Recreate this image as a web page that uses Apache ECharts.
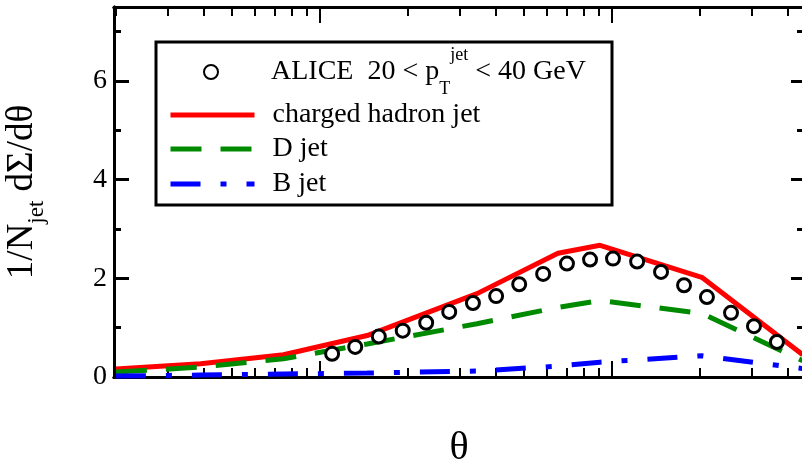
<!DOCTYPE html>
<html>
<head>
<meta charset="utf-8">
<script src="https://cdn.jsdelivr.net/npm/echarts@6/dist/echarts.min.js"></script>
<style>
html, body { margin: 0; padding: 0; background: #fff; }
#chart { width: 802px; height: 463px; }
</style>
</head>
<body>
<div id="chart"></div>
<script>
// ALICE data, 20 < pT(jet) < 40 GeV
const aliceTheta = [0.0110, 0.0132, 0.0159, 0.0192, 0.0231, 0.0277, 0.0334, 0.0401, 0.0481, 0.0581,
    0.0701, 0.0841, 0.1008, 0.1219, 0.1472, 0.1765, 0.2114, 0.2556, 0.3063, 0.3672];
const aliceValue = [0.47, 0.61, 0.82, 0.94, 1.10, 1.32, 1.50, 1.64, 1.88, 2.09,
    2.30, 2.38, 2.40, 2.34, 2.13, 1.86, 1.62, 1.30, 1.03, 0.71];

// model curves (same theta grid)
const modelTheta = [0.002, 0.0039, 0.0075, 0.0145, 0.0345, 0.0653, 0.091, 0.203, 0.45];
const chargedJet = [0.16, 0.27, 0.45, 0.84, 1.69, 2.51, 2.67, 2.02, 0.45];
const dJet = [0.10, 0.20, 0.37, 0.67, 1.08, 1.41, 1.55, 1.29, 0.33];
const bJet = [0.02, 0.04, 0.06, 0.08, 0.12, 0.22, 0.30, 0.43, 0.17];

// ticks
const xMajorTicks = [0.01, 0.1];
const xMinorTicks = [0.002, 0.003, 0.004, 0.005, 0.006, 0.007, 0.008, 0.009,
    0.02, 0.03, 0.04, 0.05, 0.06, 0.07, 0.08, 0.09, 0.2, 0.3, 0.4];
const yMajorTicks = [0, 2, 4, 6];
const yMinorTicks = [1, 3, 5, 7];

const X_MIN = 0.00197, X_MAX = 0.4545;
const Y_MIN = 0, Y_MAX = 7.5;
const FONT = 'Liberation Serif';

function zip(xs, ys) {
    return xs.map((x, i) => [x, ys[i]]);
}

function xAxisCfg(pos, ticks, len, extra) {
    return Object.assign({
        type: 'log',
        logBase: 10,
        position: pos,
        min: X_MIN,
        max: X_MAX,
        axisLine: { show: true, onZero: false, lineStyle: { color: '#000', width: 3 } },
        axisTick: { show: true, inside: true, length: len, customValues: ticks, lineStyle: { color: '#000', width: 2 } },
        axisLabel: { show: false },
        splitLine: { show: false },
        minorTick: { show: false },
        minorSplitLine: { show: false }
    }, extra || {});
}

function yAxisCfg(pos, ticks, len, extra) {
    return Object.assign({
        type: 'value',
        position: pos,
        min: Y_MIN,
        max: Y_MAX,
        axisLine: { show: true, onZero: false, lineStyle: { color: '#000', width: 3 } },
        axisTick: { show: true, inside: true, length: len, customValues: ticks, lineStyle: { color: '#000', width: 3 } },
        axisLabel: { show: false },
        splitLine: { show: false }
    }, extra || {});
}

const legendText = {
    fontFamily: FONT,
    fontSize: 28,
    color: '#000',
    padding: [0, 0, 0, 13],
    rich: {
        t: { fontFamily: FONT, fontSize: 28, color: '#000', lineHeight: 52 },
        sub: { fontFamily: FONT, fontSize: 18, color: '#000', lineHeight: 26, verticalAlign: 'bottom' },
        sup: { fontFamily: FONT, fontSize: 18, color: '#000', lineHeight: 20, verticalAlign: 'top' }
    }
};

function legendCfg(name, top, color, extra) {
    return Object.assign({
        data: [name],
        orient: 'vertical',
        left: 168,
        top: top,
        padding: 0,
        itemWidth: 84,
        itemHeight: 14,
        selectedMode: false,
        itemStyle: { color: 'rgba(0,0,0,0)', borderWidth: 0 },
        lineStyle: { width: 5, color: color },
        textStyle: { fontFamily: FONT, fontSize: 28, color: '#000', lineHeight: 28, padding: [0, 0, 0, 13] }
    }, extra || {});
}

const chart = echarts.init(document.getElementById('chart'));

chart.setOption({
    animation: false,
    backgroundColor: '#fff',
    grid: { left: 114, right: -2, top: 7, bottom: 86, outerBoundsMode: 'none' },
    xAxis: [
        xAxisCfg('bottom', xMajorTicks, 16, {
            name: 'θ',
            nameLocation: 'middle',
            nameGap: 51,
            nameTextStyle: { fontFamily: FONT, fontSize: 40, color: '#000' }
        }),
        xAxisCfg('bottom', xMinorTicks, 9),
        xAxisCfg('top', xMajorTicks, 16),
        xAxisCfg('top', xMinorTicks, 9)
    ],
    yAxis: [
        yAxisCfg('left', yMajorTicks, 15, {
            axisLabel: { show: true, customValues: yMajorTicks, margin: 7, fontFamily: FONT, fontSize: 28, color: '#000' },
            name: '{a|1/N}{s|jet}{a| dΣ/dθ}',
            nameLocation: 'middle',
            nameRotate: 90,
            nameGap: 66,
            nameTextStyle: {
                color: '#000',
                rich: {
                    a: { fontFamily: FONT, fontSize: 37, color: '#000', lineHeight: 52 },
                    s: { fontFamily: FONT, fontSize: 23, color: '#000', lineHeight: 30, verticalAlign: 'bottom' }
                }
            }
        }),
        yAxisCfg('left', yMinorTicks, 7),
        yAxisCfg('right', yMajorTicks, 13),
        yAxisCfg('right', yMinorTicks, 7)
    ],
    legend: [
        legendCfg('ALICE', 46, '#000', {
            left: 203,
            formatter: () => '{t|ALICE  20 < p}{sub|T}{sup|jet}{t| < 40 GeV}',
            itemStyle: {},
            textStyle: legendText
        }),
        legendCfg('charged hadron jet', 101, '#ff0000'),
        legendCfg('D jet', 135, '#008a00'),
        legendCfg('B jet', 170, '#0000ff')
    ],
    graphic: [{
        type: 'rect',
        shape: { x: 156, y: 42, width: 456, height: 163 },
        style: { fill: null, stroke: '#000', lineWidth: 3 },
        z: 1
    }],
    series: [
        {
            name: 'charged hadron jet',
            type: 'line',
            data: zip(modelTheta, chargedJet),
            symbol: 'none',
            lineStyle: { color: '#ff0000', width: 5 },
            itemStyle: { color: '#ff0000' },
            z: 3
        },
        {
            name: 'D jet',
            type: 'line',
            data: zip(modelTheta, dJet),
            symbol: 'none',
            lineStyle: { color: '#008a00', width: 5, type: [31, 19] },
            itemStyle: { color: '#008a00' },
            z: 3
        },
        {
            name: 'B jet',
            type: 'line',
            data: zip(modelTheta, bJet),
            symbol: 'none',
            lineStyle: { color: '#0000ff', width: 5, type: [30, 20, 6, 20] },
            itemStyle: { color: '#0000ff' },
            z: 3
        },
        {
            name: 'ALICE',
            type: 'scatter',
            data: zip(aliceTheta, aliceValue),
            symbol: 'circle',
            symbolSize: 13,
            itemStyle: { color: '#fff', borderColor: '#000', borderWidth: 3, opacity: 1 },
            z: 4
        }
    ]
});
</script>
</body>
</html>
